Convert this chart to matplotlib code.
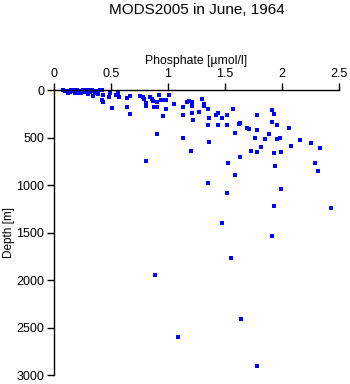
import matplotlib
matplotlib.use("Agg")
import matplotlib.pyplot as plt
import numpy as np

plt.rcParams["font.family"] = ["Liberation Sans", "DejaVu Sans"]

# phosphate [umol/l] and depth [m]
phosphate = [
    0.08, 0.10, 0.11, 0.14, 0.16, 0.18, 0.19, 0.20, 0.22, 0.23,
    0.25, 0.26, 0.28, 0.30, 0.31, 0.32, 0.34, 0.36, 0.38, 0.39,
    0.40, 0.42, 0.43, 0.42, 0.43, 0.49, 0.48, 0.51, 0.54, 0.56,
    0.57, 0.64, 0.64, 0.67, 0.67, 0.75, 0.78, 0.79, 0.81, 0.81,
    0.84, 0.86, 0.87, 0.90, 0.88, 0.90, 0.92, 0.94, 0.96, 0.98,
    0.98, 0.96, 1.01, 1.05, 1.13, 1.13, 0.90, 1.13, 1.20, 0.81,
    1.17, 1.18, 1.21, 1.21, 1.21, 1.22, 1.27, 1.30, 1.32, 1.32,
    1.35, 1.36, 1.35, 1.42, 1.44, 1.47, 1.44, 1.52, 1.52, 1.57,
    1.62, 1.63, 1.69, 1.71, 1.59, 1.36, 1.78, 1.91, 1.93, 1.91,
    1.96, 2.06, 1.78, 1.76, 1.85, 1.89, 1.96, 1.98, 2.16, 2.25,
    2.33, 2.08, 1.82, 1.73, 1.78, 1.93, 1.99, 1.63, 1.53, 1.94,
    2.29, 2.32, 1.59, 1.35, 1.52, 1.99, 1.93, 2.43, 1.47, 1.91,
    1.55, 0.89, 1.64, 1.09, 1.78,
    0.12, 0.17, 0.21, 0.24, 0.27, 0.29, 0.33, 0.35, 0.37, 0.15,
]
depth = [
    0, 10, 10, 20, 10, 30, 20, 0, 20, 10,
    0, 20, 10, 40, 0, 20, 60, 30, 10, 40,
    0, 0, 50, 100, 125, 30, 75, 190, 50, 30,
    75, 85, 180, 65, 250, 65, 75, 95, 135, 170,
    75, 95, 115, 125, 180, 180, 55, 105, 105, 105,
    200, 275, 55, 150, 180, 265, 465, 505, 640, 750,
    125, 115, 125, 170, 240, 315, 230, 95, 150, 170,
    200, 295, 370, 265, 240, 295, 370, 265, 370, 200,
    360, 350, 400, 410, 450, 550, 265, 210, 250, 335,
    370, 400, 420, 505, 515, 465, 515, 505, 525, 560,
    610, 590, 600, 640, 655, 665, 655, 705, 770, 800,
    770, 850, 895, 980, 1085, 1040, 1220, 1240, 1400, 1540,
    1770, 1950, 2410, 2600, 2905,
    30, 0, 30, 30, 0, 20, 0, 10, 20, 0,
]

x_ticks = [0, 0.5, 1, 1.5, 2, 2.5]
x_ticklabels = ["0", "0.5", "1", "1.5", "2", "2.5"]
y_ticks = [0, 500, 1000, 1500, 2000, 2500, 3000]

fig = plt.figure(figsize=(3.5, 3.84), dpi=100)
ax = fig.add_axes([0.1543, 0.0234, 0.8143, 0.7422])

ax.plot(phosphate, depth, linestyle="none", marker="s", markersize=2.3,
        markerfacecolor="#0000ff", markeredgewidth=0, antialiased=False,
        clip_on=False)

ax.set_xlim(0, 2.5)
ax.set_ylim(3000, 0)
ax.xaxis.tick_top()
ax.xaxis.set_label_position("top")
ax.set_xticks(x_ticks, x_ticklabels)
ax.set_yticks(y_ticks)
ax.tick_params(direction="out", length=5, width=1, labelsize=9, pad=2)
for side in ["right", "bottom"]:
    ax.spines[side].set_visible(False)
for side in ["left", "top"]:
    ax.spines[side].set_linewidth(1)

ax.set_xlabel("Phosphate [\u00b5mol/l]", fontsize=8.8, labelpad=3)
ax.set_ylabel("Depth [m]", fontsize=8.5, labelpad=1)
fig.text(0.5614, 0.973, "MODS2005 in June, 1964", ha="center", va="center", fontsize=11)

fig.savefig("out.png", dpi=100)
